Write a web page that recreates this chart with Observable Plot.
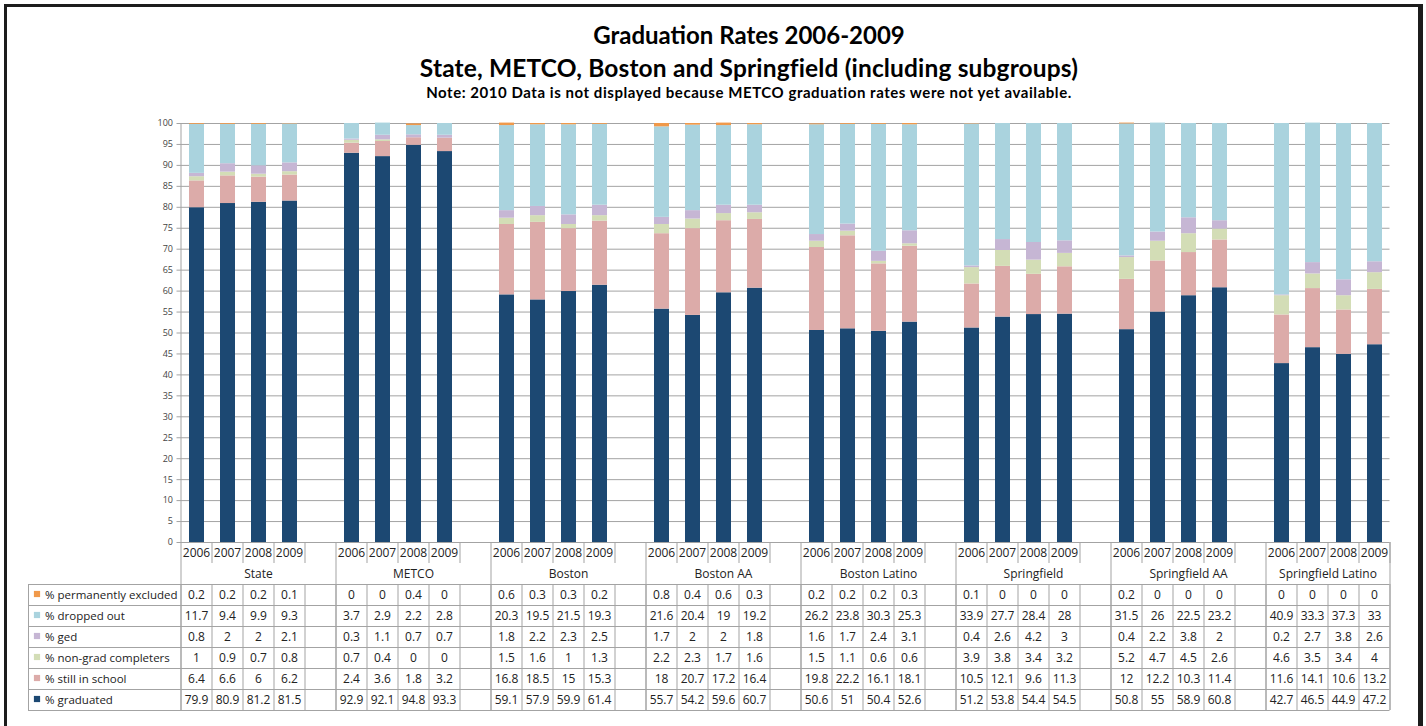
<!DOCTYPE html>
<html><head><meta charset="utf-8">
<script src="https://cdn.jsdelivr.net/npm/d3@7"></script>
<script src="https://cdn.jsdelivr.net/npm/@observablehq/plot@0.6"></script>
<style>
html,body{margin:0;padding:0;background:#fff;overflow:hidden;width:1426px;height:726px;position:relative;}
#border{position:absolute;left:4px;top:4px;width:1411px;height:800px;border-left:3px solid #1c1c1c;border-top:3px solid #1c1c1c;border-right:5px solid #1c1c1c;}
.t{position:absolute;left:0;width:1498px;text-align:center;font-family:Lato,sans-serif;font-weight:bold;color:#000;white-space:nowrap;line-height:1;}
#t1{top:23px;font-size:24px;}
#t2{top:56px;font-size:24.5px;letter-spacing:0.15px;}
#t3{top:85px;font-size:15px;letter-spacing:0.55px;}
#chart{position:absolute;left:0;top:110px;}
#table{position:absolute;left:0;top:541px;}
</style></head>
<body>
<div id="border"></div>
<div class="t" id="t1">Graduation Rates 2006-2009</div>
<div class="t" id="t2">State, METCO, Boston and Springfield (including subgroups)</div>
<div class="t" id="t3">Note: 2010 Data is not displayed because METCO graduation rates were not yet available.</div>
<div id="chart"></div>
<div id="table"></div>
<script>
const groups = ["State","METCO","Boston","Boston AA","Boston Latino","Springfield","Springfield AA","Springfield Latino"];
const years = ["2006","2007","2008","2009"];
const seriesNames = ["% graduated","% still in school","% non-grad completers","% ged","% dropped out","% permanently excluded"];
const seriesColors = ["#1c4872","#dcaba9","#d3ddb6","#c6b6d4","#aad3de","#f0994a"];
const yTicks = [0,5,10,15,20,25,30,35,40,45,50,55,60,65,70,75,80,85,90,95,100];

// values: group-major, years 2006..2009 within each group
const graduated     = [79.9,80.9,81.2,81.5, 92.9,92.1,94.8,93.3, 59.1,57.9,59.9,61.4, 55.7,54.2,59.6,60.7, 50.6,51,50.4,52.6, 51.2,53.8,54.4,54.5, 50.8,55,58.9,60.8, 42.7,46.5,44.9,47.2];
const stillInSchool = [6.4,6.6,6,6.2, 2.4,3.6,1.8,3.2, 16.8,18.5,15,15.3, 18,20.7,17.2,16.4, 19.8,22.2,16.1,18.1, 10.5,12.1,9.6,11.3, 12,12.2,10.3,11.4, 11.6,14.1,10.6,13.2];
const nonGrad       = [1,0.9,0.7,0.8, 0.7,0.4,0,0, 1.5,1.6,1,1.3, 2.2,2.3,1.7,1.6, 1.5,1.1,0.6,0.6, 3.9,3.8,3.4,3.2, 5.2,4.7,4.5,2.6, 4.6,3.5,3.4,4];
const ged           = [0.8,2,2,2.1, 0.3,1.1,0.7,0.7, 1.8,2.2,2.3,2.5, 1.7,2,2,1.8, 1.6,1.7,2.4,3.1, 0.4,2.6,4.2,3, 0.4,2.2,3.8,2, 0.2,2.7,3.8,2.6];
const droppedOut    = [11.7,9.4,9.9,9.3, 3.7,2.9,2.2,2.8, 20.3,19.5,21.5,19.3, 21.6,20.4,19,19.2, 26.2,23.8,30.3,25.3, 33.9,27.7,28.4,28, 31.5,26,22.5,23.2, 40.9,33.3,37.3,33];
const permExcluded  = [0.2,0.2,0.2,0.1, 0,0,0.4,0, 0.6,0.3,0.3,0.2, 0.8,0.4,0.6,0.3, 0.2,0.2,0.2,0.3, 0.1,0,0,0, 0.2,0,0,0, 0,0,0,0];
const seriesValues = [graduated, stillInSchool, nonGrad, ged, droppedOut, permExcluded];

// category slots (Excel-style: blank category between groups)
const slots = [];
const groupSpans = [];
groups.forEach((g, gi) => {
  const start = slots.length;
  years.forEach(y => slots.push({key: g + " " + y, group: g, year: y}));
  if (gi < groups.length - 1) slots.push({key: g + " gap", group: g, year: null});
  groupSpans.push({group: g, start, end: slots.length});
});
const slotIndex = new Map(slots.map((s, i) => [s.key, i]));

const tidy = [];
groups.forEach((g, gi) => years.forEach((y, yi) => seriesNames.forEach((s, si) =>
  tidy.push({slot: g + " " + y, series: s, value: seriesValues[si][gi * 4 + yi]}))));

const W = 1426, ML = 180.5, MR = 36.5;
const GRID = "#a3a3a3";
const FONT = "'Open Sans', sans-serif";

const chart = Plot.plot({
  width: W, height: 442, marginLeft: ML, marginRight: MR, marginTop: 13, marginBottom: 10,
  style: {fontFamily: FONT, fontSize: "9px", color: "#444", background: "transparent"},
  x: {domain: slots.map(s => s.key), padding: 0, axis: null},
  y: {domain: [0, 100], axis: null},
  color: {domain: seriesNames, range: seriesColors},
  marks: [
    Plot.ruleY(yTicks.filter(t => t > 0), {y: d => d, stroke: GRID, insetLeft: -4}),
    Plot.axisY(yTicks, {tickSize: 0, tickPadding: 8, fontSize: 9, fill: "#444", label: null}),
    Plot.barY(tidy, {x: "slot", y: "value", fill: "series", order: seriesNames, insetLeft: 8, insetRight: 8}),
    Plot.ruleY([0], {y: d => d, stroke: GRID, insetLeft: -4}),
    Plot.frame({anchor: "left", stroke: GRID})
  ]
});
document.getElementById("chart").appendChild(chart);

// table
const rowNames = seriesNames.slice().reverse();
const tableRows = rowNames.map((name, i) => ({name, top: i + 2}));
const cells = [];
groups.forEach((g, gi) => years.forEach((y, yi) => rowNames.forEach((name, ri) =>
  cells.push({slot: g + " " + y, row: ri + 2, text: String(seriesValues[seriesNames.indexOf(name)][gi * 4 + yi])}))));
const groupEdges = [0, ...groupSpans.map(d => d.end)];
const yearEdges = [];
groupSpans.forEach(d => years.forEach((y, yi) => yearEdges.push(d.start + yi + 1)));
const rowEdges = [2, 3, 4, 5, 6, 7, 8];

const table = Plot.plot({
  width: W, height: 171, marginLeft: ML, marginRight: MR, marginTop: 1, marginBottom: 2,
  style: {fontFamily: FONT, fontSize: "12px", color: "#222", background: "transparent"},
  x: {domain: [0, slots.length], axis: null},
  y: {domain: [0, 8], reverse: true, axis: null},
  color: {domain: seriesNames, range: seriesColors},
  marks: [
    Plot.ruleY(rowEdges, {y: d => d, stroke: GRID, insetLeft: -152.5}),
    Plot.ruleX(d3.range(slots.length + 1), {x: d => d, y1: d => 2, y2: d => 8, stroke: GRID}),
    Plot.ruleX(groupEdges, {x: d => d, y1: d => 0, y2: d => 8, stroke: GRID}),
    Plot.ruleX(yearEdges, {x: d => d, y1: d => 0, y2: d => 1, stroke: GRID}),
    Plot.ruleX([0], {x: d => d, y1: d => 2, y2: d => 8, dx: -152.5, stroke: GRID}),
    Plot.text(slots.filter(s => s.year), {x: s => slotIndex.get(s.key) + 0.5, y: d => 0.5, text: "year", fill: "#222"}),
    Plot.text(groupSpans, {x: d => (d.start + d.end) / 2, y: d => 1.5, text: "group", fill: "#222"}),
    Plot.text(cells, {x: d => slotIndex.get(d.slot) + 0.5, y: d => d.row + 0.5, text: "text", fill: "#222"}),
    Plot.dot(tableRows, {frameAnchor: "left", y: d => d.top + 0.5, dx: -144, dy: -1, symbol: "square", r: 3.5, fill: "name"}),
    Plot.text(tableRows, {frameAnchor: "left", y: d => d.top + 0.5, dx: -136, textAnchor: "start", text: "name", fill: "#222", fontSize: 11.5})
  ]
});
document.getElementById("table").appendChild(table);
</script>
</body></html>
